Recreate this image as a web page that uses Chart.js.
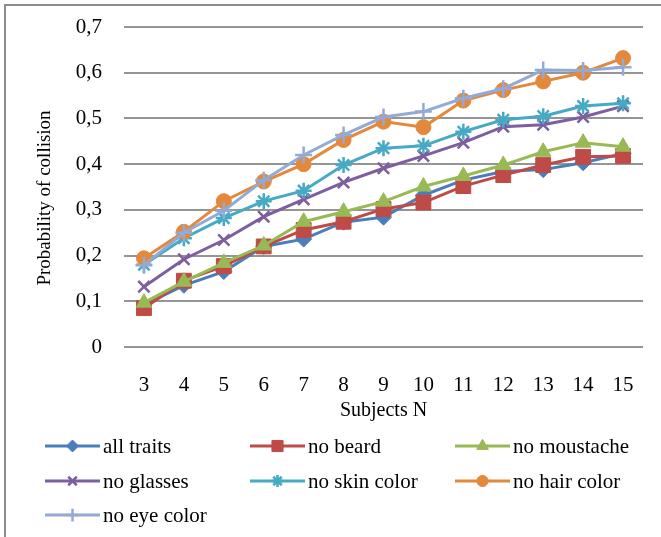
<!DOCTYPE html>
<html>
<head>
<meta charset="utf-8">
<script src="https://cdn.jsdelivr.net/npm/chart.js@4/dist/chart.umd.min.js"></script>
<style>
  html, body { margin: 0; padding: 0; background: #fff; }
  #wrap { width: 661px; height: 537px; position: relative; }
</style>
</head>
<body>
<div id="wrap"><canvas id="c" width="661" height="537"></canvas></div>
<script>
// Number of subjects on the x axis
const subjects = ['3', '4', '5', '6', '7', '8', '9', '10', '11', '12', '13', '14', '15'];

// Probability of collision per trait configuration
const allTraits   = [0.092, 0.135, 0.165, 0.220, 0.236, 0.273, 0.284, 0.332, 0.365, 0.384, 0.388, 0.403, 0.423];
const noBeard     = [0.085, 0.145, 0.177, 0.220, 0.256, 0.274, 0.302, 0.316, 0.352, 0.376, 0.398, 0.416, 0.418];
const noMoustache = [0.097, 0.143, 0.184, 0.222, 0.274, 0.296, 0.318, 0.351, 0.374, 0.398, 0.427, 0.447, 0.438];
const noGlasses   = [0.132, 0.192, 0.234, 0.285, 0.323, 0.360, 0.391, 0.418, 0.447, 0.482, 0.486, 0.503, 0.527];
const noSkinColor = [0.180, 0.238, 0.282, 0.319, 0.342, 0.398, 0.435, 0.440, 0.471, 0.497, 0.505, 0.527, 0.533];
const noHairColor = [0.194, 0.252, 0.319, 0.362, 0.400, 0.453, 0.493, 0.481, 0.539, 0.562, 0.581, 0.600, 0.632];
const noEyeColor  = [0.179, 0.250, 0.298, 0.365, 0.420, 0.464, 0.503, 0.515, 0.544, 0.565, 0.606, 0.605, 0.612];

const seriesNames = ['all traits', 'no beard', 'no moustache', 'no glasses', 'no skin color', 'no hair color', 'no eye color'];

// Y axis tick values
const yTicks = [0, 0.1, 0.2, 0.3, 0.4, 0.5, 0.6, 0.7];

const yTitle = 'Probability of collision';
const xTitle = 'Subjects N';

const FONT = '"Liberation Serif", "Times New Roman", serif';

const styles = [
  { color: '#4A7EBB', point: 'rectRot',  radius: 8,   bw: 1 },
  { color: '#BE4B48', point: 'rect',     radius: 10.5, bw: 1 },
  { color: '#98B954', point: 'triangle', radius: 9,   bw: 1 },
  { color: '#7D5FA0', point: 'crossRot', radius: 8,   bw: 2.5 },
  { color: '#46AAC4', point: 'star',     radius: 8,   bw: 2.5 },
  { color: '#E4893C', point: 'circle',   radius: 7.5, bw: 1 },
  { color: '#93AAD6', point: 'cross',    radius: 8.5, bw: 2.5 }
];

const values = [allTraits, noBeard, noMoustache, noGlasses, noSkinColor, noHairColor, noEyeColor];

const datasets = values.map((v, i) => ({
  label: seriesNames[i],
  data: v,
  borderColor: styles[i].color,
  backgroundColor: styles[i].color,
  pointBorderColor: styles[i].color,
  pointBackgroundColor: styles[i].color,
  pointStyle: styles[i].point,
  pointRadius: styles[i].radius,
  pointHoverRadius: styles[i].radius,
  pointBorderWidth: styles[i].bw,
  borderWidth: 3,
  tension: 0,
  fill: false,
  // later series are painted over earlier ones
  order: values.length - i
}));

// Frame around the chart (top and left edges) and the rotated y axis title
const framePlugin = {
  id: 'frame',
  beforeDraw(chart) {
    const ctx = chart.ctx;
    ctx.save();
    ctx.strokeStyle = '#8c8c8c';
    ctx.lineWidth = 2;
    ctx.beginPath();
    ctx.moveTo(5, chart.height + 2);
    ctx.lineTo(5, 5);
    ctx.lineTo(chart.width + 2, 5);
    ctx.stroke();

    ctx.translate(45, 198);
    ctx.rotate(-Math.PI / 2);
    ctx.fillStyle = '#000';
    ctx.font = '19px ' + FONT;
    ctx.textAlign = 'center';
    ctx.textBaseline = 'middle';
    ctx.fillText(yTitle, 0, 0);
    ctx.restore();
  }
};

// Three-column legend under the axis title
const legendPlugin = {
  id: 'gridLegend',
  afterDraw(chart) {
    const ctx = chart.ctx;
    const colX = [45, 250, 455];
    const rowY = [446, 481, 515];
    const lineLen = 55;
    ctx.save();
    chart.data.datasets.forEach((ds, i) => {
      const x0 = colX[i % 3];
      const y = rowY[Math.floor(i / 3)];
      ctx.strokeStyle = ds.borderColor;
      ctx.lineWidth = 3;
      ctx.beginPath();
      ctx.moveTo(x0, y);
      ctx.lineTo(x0 + lineLen, y);
      ctx.stroke();
      ctx.fillStyle = ds.pointBackgroundColor;
      ctx.strokeStyle = ds.pointBorderColor;
      ctx.lineWidth = ds.pointBorderWidth;
      Chart.helpers.drawPoint(ctx, {
        pointStyle: ds.pointStyle,
        radius: ds.pointRadius * 0.75,
        rotation: 0,
        borderWidth: ds.pointBorderWidth
      }, x0 + lineLen / 2, y);
      ctx.fillStyle = '#000';
      ctx.font = '21px ' + FONT;
      ctx.textBaseline = 'middle';
      ctx.textAlign = 'left';
      ctx.fillText(ds.label, x0 + lineLen + 3, y + 1);
    });
    ctx.restore();
  }
};

new Chart(document.getElementById('c'), {
  type: 'line',
  data: { labels: subjects, datasets },
  options: {
    responsive: false,
    animation: false,
    events: [],
    layout: { padding: { top: 27, right: 18, bottom: 114, left: 0 } },
    plugins: {
      legend: { display: false },
      tooltip: { enabled: false }
    },
    scales: {
      x: {
        type: 'category',
        offset: true,
        grid: { display: false, drawTicks: false },
        border: { display: false },
        ticks: {
          color: '#000',
          font: { family: FONT, size: 21 },
          padding: 26,
          maxRotation: 0,
          autoSkip: false
        },
        title: {
          display: true,
          text: xTitle,
          color: '#000',
          font: { family: FONT, size: 20 },
          padding: { top: 2, bottom: 0 }
        },
        afterFit(scale) {
          scale.height = 76;
          scale.paddingLeft = 0;
          scale.paddingRight = 0;
        }
      },
      y: {
        min: 0,
        max: 0.7,
        afterBuildTicks(scale) { scale.ticks = yTicks.map(v => ({ value: v })); },
        grid: { color: '#959595', lineWidth: 2, drawTicks: false },
        border: { display: false },
        ticks: {
          color: '#000',
          font: { family: FONT, size: 21 },
          padding: 22,
          callback(v) { return v === 0 ? '0' : v.toFixed(1).replace('.', ','); }
        },
        title: { display: false },
        afterFit(scale) {
          scale.width = 124;
          scale.paddingTop = 0;
          scale.paddingBottom = 0;
        }
      }
    }
  },
  plugins: [framePlugin, legendPlugin]
});
</script>
</body>
</html>
